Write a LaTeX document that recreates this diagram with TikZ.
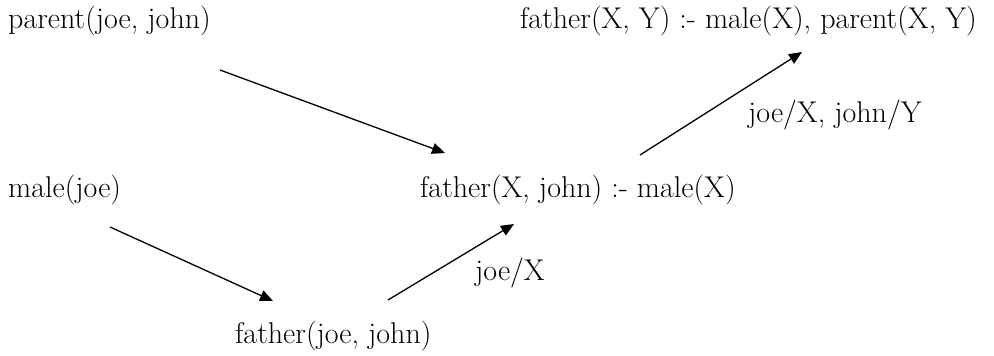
\documentclass[tikz,border=0pt]{standalone}
\usetikzlibrary{arrows.meta}
\begin{document}
\begin{tikzpicture}[x=1pt,y=-1pt,
  lbl/.style={anchor=base west,inner sep=0pt,font=\fontsize{30}{34}\selectfont},
  arr/.style={line width=1.3pt,-{Triangle[length=13pt,width=11pt]}}]
\useasboundingbox (0,0) rectangle (994,356);
\node[lbl] (parent) at (8,28) {parent(joe, john)};
\node[lbl] (rule) at (520,28) {father(X, Y) :- male(X), parent(X, Y)};
\node[lbl] (sub1) at (748,122) {joe/X, john/Y};
\node[lbl] (male) at (8,197) {male(joe)};
\node[lbl] (fxj) at (420,197) {father(X, john) :- male(X)};
\node[lbl] (sub2) at (475,280) {joe/X};
\node[lbl] (fjj) at (235,343) {father(joe, john)};
\coordinate (a1s) at (220,70);  \coordinate (a1e) at (445,153);
\coordinate (a2s) at (640,155); \coordinate (a2e) at (802,52);
\coordinate (a3s) at (110,227); \coordinate (a3e) at (273,301);
\coordinate (a4s) at (388,300); \coordinate (a4e) at (514,224);
\draw[arr] (a1s) -- (a1e);
\draw[arr] (a2s) -- (a2e);
\draw[arr] (a3s) -- (a3e);
\draw[arr] (a4s) -- (a4e);
\end{tikzpicture}
\end{document}
